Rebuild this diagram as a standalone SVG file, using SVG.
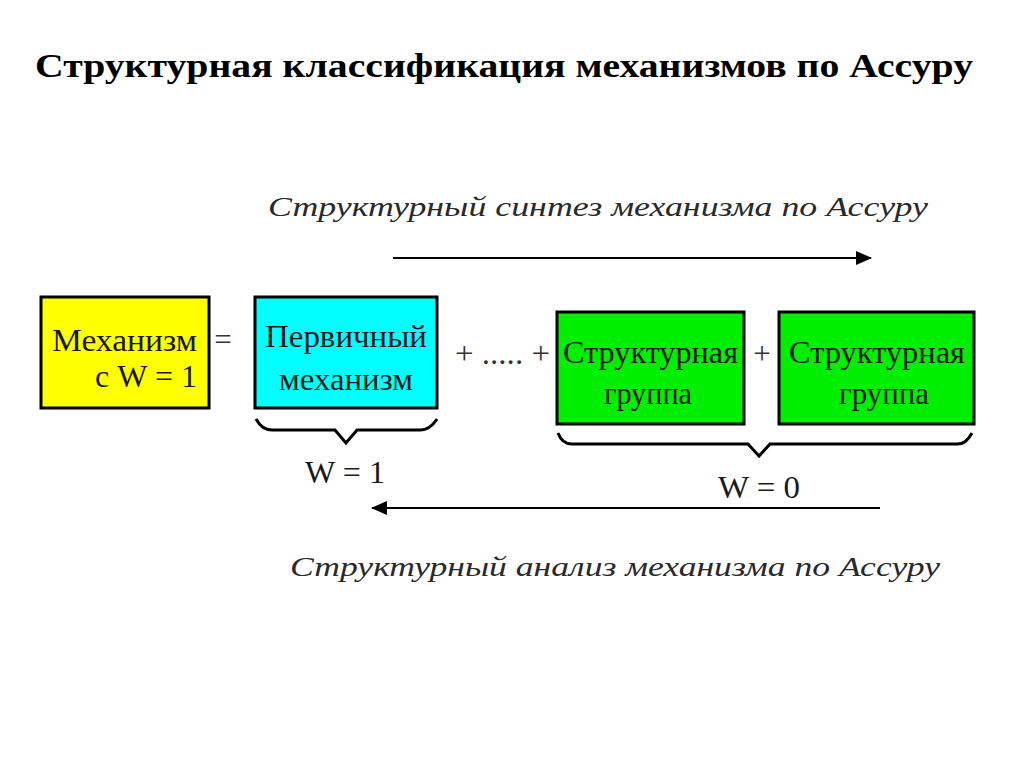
<svg xmlns="http://www.w3.org/2000/svg" width="1024" height="767" viewBox="0 0 1024 767">
<defs>
<style>
.title{font-family:"Liberation Serif","Times New Roman",serif;font-weight:bold;font-size:34px;fill:#000}
.it{font-family:"Liberation Serif","Times New Roman",serif;font-style:italic;font-size:28px;fill:#2a2a2a}
.bt{font-family:"Liberation Serif","Times New Roman",serif;font-size:31px;fill:#1a1a1a}
.sym{font-family:"Liberation Serif","Times New Roman",serif;font-size:31px;fill:#333}
.box{stroke:#000;stroke-width:3}
.line{stroke:#000;stroke-width:2;fill:none}
.brace{stroke:#000;stroke-width:3;fill:none}
</style>
<marker id="ah" markerWidth="16" markerHeight="14" refX="15" refY="7" orient="auto" markerUnits="userSpaceOnUse" viewBox="0 0 16 14">
<path d="M0,0 L16,7 L0,14 z" fill="#000"/>
</marker>
</defs>
<rect width="1024" height="767" fill="#fff"/>
<text class="title" x="35" y="77" textLength="938" lengthAdjust="spacingAndGlyphs">Структурная классификация механизмов по Ассуру</text>

<g id="label-synthesis"><text class="it" x="268" y="216" textLength="660" lengthAdjust="spacingAndGlyphs">Структурный синтез механизма по Ассуру</text></g>
<g id="label-analysis"><text class="it" x="290" y="576" textLength="650" lengthAdjust="spacingAndGlyphs">Структурный анализ механизма по Ассуру</text></g>

<g id="connectors">
<line class="line" x1="393" y1="258" x2="871" y2="258" marker-end="url(#ah)"/>
<line class="line" x1="880" y1="508" x2="372" y2="508" marker-end="url(#ah)"/>
<path class="brace" d="M256,419 Q262,430 272,430 L335,430 L346,443 L357,430 L420,430 Q430,430 437,419"/>
<path class="brace" d="M558,433 Q562,444 572,444 L748,444 L759,456 L770,444 L958,444 Q966,444 972,433"/>
</g>

<g id="mechanism">
<rect class="box" x="41" y="297" width="168" height="111" fill="#ffff00"/>
<text class="bt" x="52" y="351" textLength="145" lengthAdjust="spacingAndGlyphs">Механизм</text>
<text class="bt" x="95" y="387" textLength="102" lengthAdjust="spacingAndGlyphs">с W = 1</text>
</g>
<g id="eq"><text class="sym" x="223" y="350" text-anchor="middle">=</text></g>
<g id="primary">
<rect class="box" x="255" y="297" width="182" height="111" fill="#00ffff"/>
<text class="bt" x="265" y="347" textLength="162" lengthAdjust="spacingAndGlyphs">Первичный</text>
<text class="bt" x="279" y="390" textLength="134" lengthAdjust="spacingAndGlyphs">механизм</text>
</g>
<g id="plus1"><text class="sym" x="455" y="364" textLength="95" lengthAdjust="spacingAndGlyphs">+ ..... +</text></g>
<g id="group1">
<rect class="box" x="557" y="312" width="187" height="112" fill="#00ee00"/>
<text class="bt" x="563" y="363" textLength="175" lengthAdjust="spacingAndGlyphs">Структурная</text>
<text class="bt" x="604" y="404" textLength="88" lengthAdjust="spacingAndGlyphs">группа</text>
</g>
<g id="plus2"><text class="sym" x="762" y="364" text-anchor="middle">+</text></g>
<g id="group2">
<rect class="box" x="779" y="312" width="195" height="112" fill="#00ee00"/>
<text class="bt" x="789" y="363" textLength="176" lengthAdjust="spacingAndGlyphs">Структурная</text>
<text class="bt" x="839" y="404" textLength="90" lengthAdjust="spacingAndGlyphs">группа</text>
</g>
<g id="w1"><text class="bt" x="305" y="483" textLength="80" lengthAdjust="spacingAndGlyphs">W = 1</text></g>
<g id="w0"><text class="bt" x="718" y="498" textLength="82" lengthAdjust="spacingAndGlyphs">W = 0</text></g>
</svg>
